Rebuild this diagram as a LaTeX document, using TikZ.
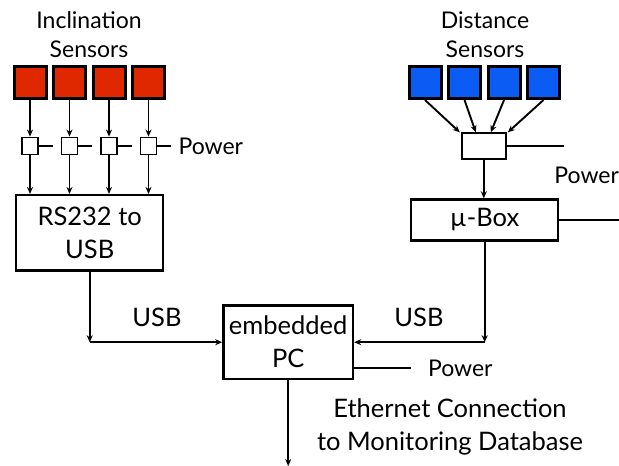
\documentclass[tikz,border=0pt]{standalone}
\usepackage{fontspec}
\setmainfont{Lato}
\usetikzlibrary{arrows.meta}
\definecolor{incred}{HTML}{E02800}
\definecolor{distblue}{HTML}{0A5CF5}

\begin{document}
\begin{tikzpicture}[x=1pt, y=-1pt,
		font=\fontsize{23}{29}\selectfont,
		box/.style={draw, line width=2.4pt, inner sep=0pt, align=center, font=\fontsize{25.5}{33}\selectfont},
		sensor/.style={draw, line width=3pt, minimum size=32pt, inner sep=0pt},
		tap/.style={draw, line width=1.9pt, minimum width=16pt, minimum height=17pt, inner sep=0pt},
		flow/.style={-{Stealth[length=7pt, width=6pt]}, line width=1.9pt},
		wire/.style={line width=1.9pt},
		item/.style={align=center, inner sep=0pt},
		bigitem/.style={align=center, inner sep=0pt, font=\fontsize{25.5}{33}\selectfont}]
		\useasboundingbox (0,0) rectangle (619,466);

		% inclination sensors
		\node[item] (inctitle) at (89,35) {Inclination\\Sensors};
		\foreach \i/\x in {1/30,2/69.5,3/109,4/148.5} {
			\node[sensor, fill=incred] (s\i) at (\x,82.5) {};
			\node[tap] (t\i) at (\x,146) {};
			\coordinate (tp\i) at ([xshift=14pt]t\i.east);
			\draw[flow] (s\i) -- (t\i);
			\draw[wire] (t\i.east) -- (tp\i);
		}
		\node[item] (incpower) at (210.8,146.7) {Power};
		\node[box, minimum width=147pt, minimum height=75.3pt] (rs) at (89.7,232.8) {RS232 to\\USB};
		\foreach \i in {1,...,4}
			\draw[flow] (t\i) -- (t\i |- rs.north);

		% distance sensors
		\node[item] (disttitle) at (485,35) {Distance\\Sensors};
		\node[tap, minimum width=44pt, minimum height=26pt] (jb) at (483.8,146.3) {};
		\foreach \i/\x/\dx in {1/425/-24,2/464.5/-8,3/504/7,4/543.5/24} {
			\node[sensor, fill=distblue] (b\i) at (\x,82.5) {};
			\draw[flow] (b\i.south) -- ([xshift=\dx pt]jb.north);
		}
		\coordinate (jbp) at ([xshift=57pt]jb.east);
		\draw[wire] (jb.east) -- (jbp);
		\node[item] (distpower) at (586.7,175) {Power};
		\node[box, minimum width=147pt, minimum height=41pt] (mb) at (484.7,220) {µ-Box};
		\draw[flow] (jb.south) -- (jb.south |- mb.north);
		\coordinate (mbp) at ([xshift=60pt]mb.east);
		\draw[wire] (mb.east) -- (mbp);

		% embedded pc
		\node[box, minimum width=129.6pt, minimum height=73.3pt] (pc) at (288.2,342.2) {embedded\\PC};
		\coordinate (usbl) at (rs.south |- pc.west);
		\coordinate (usbr) at (mb.south |- pc.east);
		\draw[flow] (rs.south) -- (usbl);
		\draw[flow] (usbl) -- (pc.west);
		\draw[flow] (mb.south) -- (usbr);
		\draw[flow] (usbr) -- (pc.east);
		\node[bigitem] (usbleft) at (157,317.3) {USB};
		\node[bigitem] (usbright) at (419,317.3) {USB};
		\coordinate (pcp) at (411,367.7);
		\draw[wire] (pc.east |- pcp) -- (pcp);
		\node[item] (pcpower) at (460.3,368.3) {Power};
		\coordinate (eth) at (pc.south |- 0,466);
		\draw[flow] (pc.south) -- (eth);
		\node[bigitem] (ethlabel) at (450,426.5) {Ethernet Connection\\to Monitoring Database};
	\end{tikzpicture}
\end{document}
